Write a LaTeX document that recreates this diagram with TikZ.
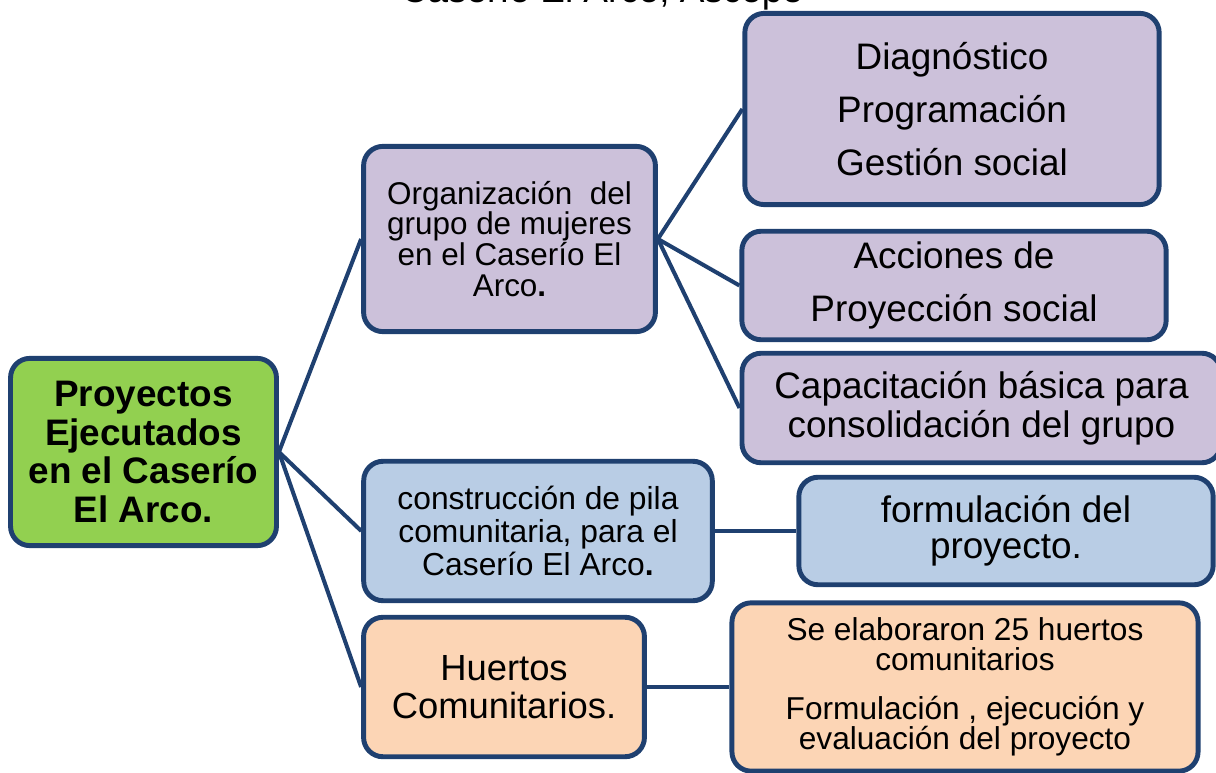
\documentclass[tikz,border=0pt]{standalone}
\usepackage{fontspec}
\setmainfont{Liberation Sans}
\definecolor{bord}{RGB}{31,64,112}
\definecolor{cgreen}{RGB}{146,208,80}
\definecolor{clav}{RGB}{204,193,218}
\definecolor{cblue}{RGB}{185,205,229}
\definecolor{cpeach}{RGB}{252,213,181}
\begin{document}
\begin{tikzpicture}[x=0.02cm,y=-0.02cm,
  box/.style={draw=bord, line width=2.8pt, rounded corners=11pt, align=center, inner sep=0pt},
  sz/.style 2 args={minimum width=#1*0.5669pt, minimum height=#2*0.5669pt},
  link/.style={draw=bord, line width=2.3pt},
  fs/.style 2 args={font=\fontsize{#1}{#2}\selectfont}]
\useasboundingbox (0,0) rectangle (1216,773);
\node[anchor=base, fs={21}{25}] (title) at (602,3) {Caserío El Arco, Ascope};

\node[box, fill=cgreen, sz={267}{188}, font=\fontsize{21}{22}\selectfont\bfseries] (root) at (143.5,452)
  {Proyectos\\Ejecutados\\en el Caserío\\El Arco.};
\node[box, fill=clav, sz={293}{186}, fs={17.9}{17.6}] (org) at (509.5,239)
  {Organización\ \ del\\grupo de mujeres\\en el Caserío El\\Arco\textbf{.}};
\node[box, fill=clav, sz={416}{192}, fs={21}{30}] (diag) at (952,109)
  {Diagnóstico\\Programación\\Gestión social};
\node[box, fill=clav, sz={426}{109}, fs={21}{30}] (acc) at (954,285.5)
  {Acciones de\\Proyección social};
\node[box, fill=clav, sz={481}{110}, fs={21}{22}] (cap) at (981.5,408)
  {Capacitación básica para\\consolidación del grupo};
\node[box, fill=cblue, sz={350}{140}, fs={18.1}{18.7}] (con) at (538,531)
  {construcción de pila\\comunitaria, para el\\Caserío El Arco\textbf{.}};
\node[box, fill=cblue, sz={416}{108}, fs={21}{20.4}] (form) at (1006,531)
  {formulación del\\proyecto.};
\node[box, fill=cpeach, sz={282}{140}, fs={20.7}{21.5}] (hue) at (504,687)
  {Huertos\\Comunitarios.};
\node[box, fill=cpeach, sz={468}{169}, fs={18}{17}] (se) at (965,687)
  {Se elaboraron 25 huertos\\comunitarios\\[11pt]Formulación , ejecución y\\evaluación del proyecto};

\draw[link] (root.east) -- (org.west);
\draw[link] (root.east) -- (con.west);
\draw[link] (root.east) -- (hue.west);
\draw[link] (org.east) -- (diag.west);
\draw[link] (org.east) -- (acc.west);
\draw[link] (org.east) -- (cap.west);
\draw[link] (con.east) -- (form.west);
\draw[link] (hue.east) -- (se.west);
\end{tikzpicture}
\end{document}
